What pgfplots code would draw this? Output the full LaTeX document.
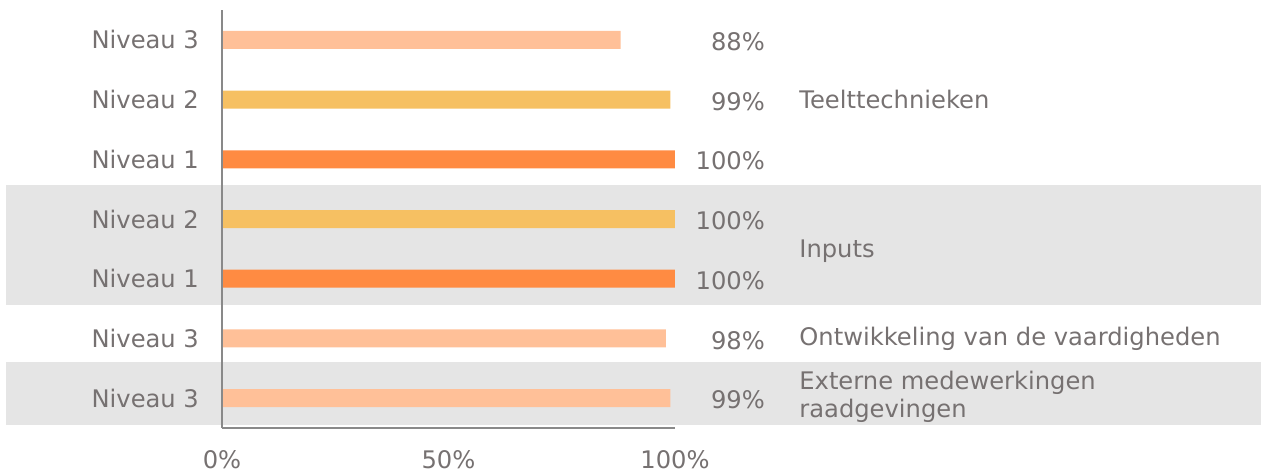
\documentclass[border=0pt]{standalone}
\usepackage{pgfplots}
\pgfplotsset{compat=1.18}
\usepackage{fontspec}
\setmainfont{DejaVu Sans}
\definecolor{txt}{RGB}{118,113,113}
\definecolor{axisgray}{RGB}{137,137,137}
\definecolor{band}{RGB}{229,229,229}
\definecolor{nthree}{RGB}{255,192,152}
\definecolor{ntwo}{RGB}{246,192,98}
\definecolor{nbarone}{RGB}{255,139,66}
\begin{document}
\begin{tikzpicture}
\begin{axis}[
  scale only axis, width=226.5pt, height=209pt,
  xmin=0, xmax=100, ymin=-0.5, ymax=6.5,
  axis x line*=bottom, axis y line*=left,
  axis line style={-, draw=axisgray, line width=0.6pt},
  axis on top,
  xbar, bar width=9pt,
  xtick={0,50,100}, xticklabels={0\%,50\%,100\%},
  ytick={0,1,2,3,4,5,6},
  yticklabels={Niveau 3,Niveau 3,Niveau 1,Niveau 2,Niveau 1,Niveau 2,Niveau 3},
  major tick length=0pt,
  tick label style={text=txt, font=\fontsize{12.1}{14}\selectfont},
  xticklabel style={yshift=-7.5pt},
  yticklabel style={xshift=-8pt},
  /pgf/number format/assume math mode=true,
  clip=false,
]
\path (axis cs:-49.0,-1.237) rectangle (axis cs:229.36,6.668);
\fill[band] (axis cs:-47.68,1.560) rectangle (axis cs:229.36,3.570);
\fill[band] (axis cs:-47.68,-0.450) rectangle (axis cs:229.36,0.605);
\addplot[fill=nthree, draw=none, bar shift=0pt] coordinates {(88,6) (98,1) (99,0)};
\addplot[fill=ntwo, draw=none, bar shift=0pt] coordinates {(99,5) (100,3)};
\addplot[fill=nbarone, draw=none, bar shift=0pt] coordinates {(100,4) (100,2)};
\begin{scope}[every node/.style={text=txt, font=\fontsize{12.1}{14}\selectfont}]
\node[anchor=east] at (axis cs:121.4,5.97) {88\%};
\node[anchor=east] at (axis cs:121.4,4.97) {99\%};
\node[anchor=east] at (axis cs:121.4,3.97) {100\%};
\node[anchor=east] at (axis cs:121.4,2.97) {100\%};
\node[anchor=east] at (axis cs:121.4,1.97) {100\%};
\node[anchor=east] at (axis cs:121.4,0.97) {98\%};
\node[anchor=east] at (axis cs:121.4,-0.03) {99\%};
\node[anchor=west] at (axis cs:125.9,5) {Teelttechnieken};
\node[anchor=west] at (axis cs:125.9,2.46) {Inputs};
\node[anchor=west] at (axis cs:125.9,1.0) {Ontwikkeling van de vaardigheden};
\node[anchor=west, align=left] at (axis cs:125.9,0.03) {Externe medewerkingen\\raadgevingen};
\end{scope}
\end{axis}
\end{tikzpicture}
\end{document}
